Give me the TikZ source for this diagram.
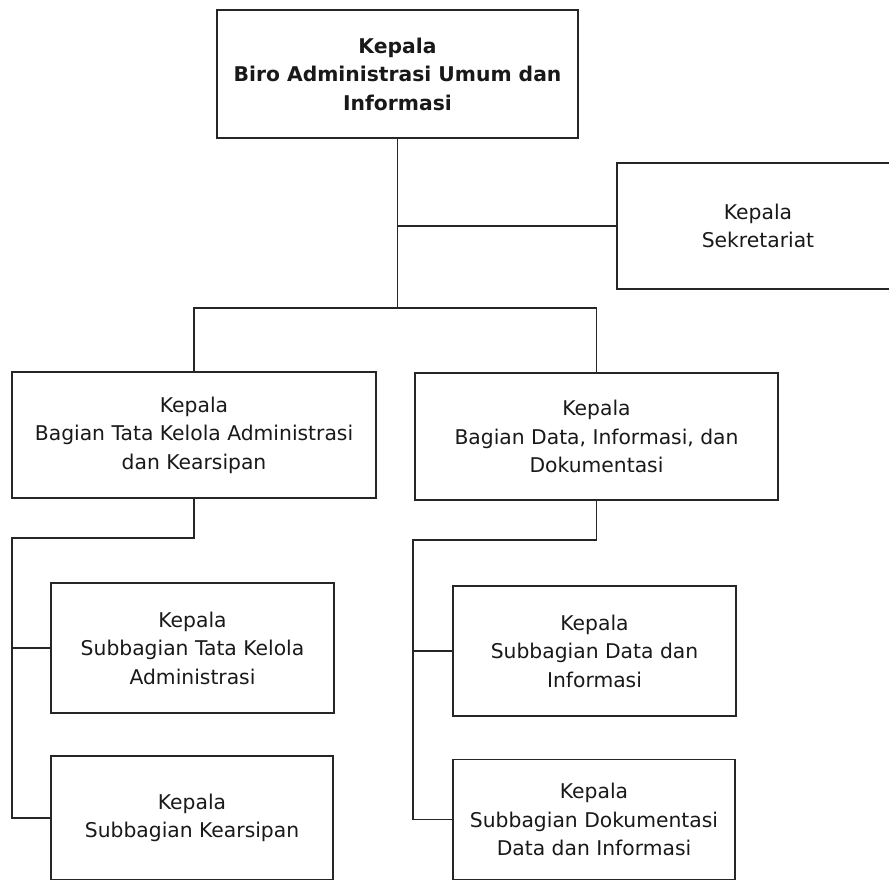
\documentclass[tikz,border=0pt]{standalone}
\usepackage{fontspec}
\setmainfont{DejaVu Sans}
\begin{document}
\begin{tikzpicture}[x=1pt,y=-1pt,
  unit/.style={draw=black!85, line width=1.6pt, rectangle, inner sep=0pt,
    align=center, text=black!90, font=\fontsize{20.3}{28.5}\selectfont},
  head/.style={unit, font=\fontsize{20.3}{28.5}\selectfont\bfseries},
  link/.style={draw=black!85, line width=1.6pt}]
\clip (0,0) rectangle (889,880);
\fill[white] (0,0) rectangle (889,880);

% units
\node[head, minimum width=361pt, minimum height=128pt] (biro) at (397.5,74)
  {Kepala\\Biro Administrasi Umum dan\\Informasi};
\node[unit, minimum width=282pt, minimum height=126pt] (sekr) at (758,226)
  {Kepala\\Sekretariat};
\node[unit, minimum width=364pt, minimum height=126pt] (bagA) at (194,435)
  {Kepala\\Bagian Tata Kelola Administrasi\\dan Kearsipan};
\node[unit, minimum width=363pt, minimum height=127pt] (bagD) at (596.5,436.5)
  {Kepala\\Bagian Data, Informasi, dan\\Dokumentasi};
\node[unit, minimum width=283pt, minimum height=130pt] (subTK) at (192.5,648)
  {Kepala\\Subbagian Tata Kelola\\Administrasi};
\node[unit, minimum width=282pt, minimum height=124pt] (subKA) at (192,818)
  {Kepala\\Subbagian Kearsipan};
\node[unit, minimum width=283pt, minimum height=130pt] (subDI) at (594.5,651)
  {Kepala\\Subbagian Data dan\\Informasi};
\node[unit, minimum width=282pt, minimum height=120pt] (subDO) at (594,819.5)
  {Kepala\\Subbagian Dokumentasi\\Data dan Informasi};

% connectors
\coordinate (fork) at (397.5,308);
\draw[link] (biro.south) -- (fork);
\draw[link] (biro.south |- sekr.west) -- (sekr.west);
\draw[link] (bagA.north) |- (fork) -| (bagD.north);

\coordinate (spineA) at (12,538);
\draw[link] (bagA.south) |- (spineA) |- (subKA.west);
\draw[link] (spineA |- subTK.west) -- (subTK.west);

\coordinate (spineD) at (413,540);
\draw[link] (bagD.south) |- (spineD) |- (subDO.west);
\draw[link] (spineD |- subDI.west) -- (subDI.west);
\end{tikzpicture}
\end{document}
